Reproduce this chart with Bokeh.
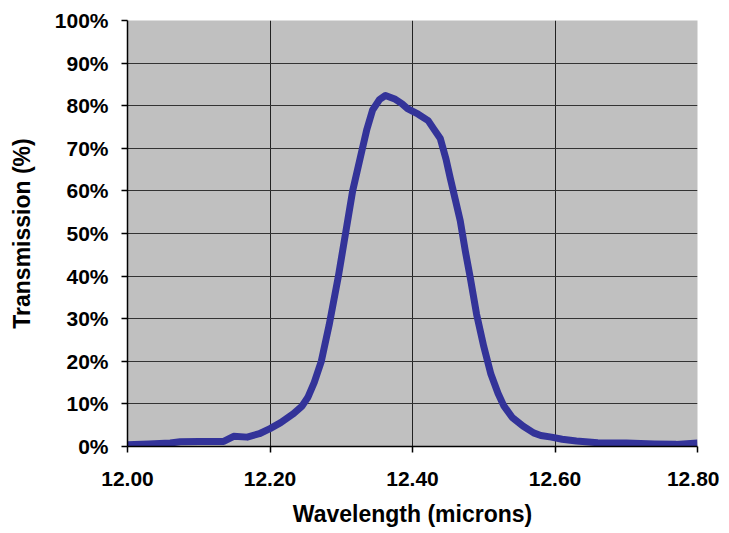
from bokeh.plotting import figure
from bokeh.models import Range1d, PrintfTickFormatter, FixedTicker
from bokeh.embed import file_html
from bokeh.resources import INLINE

wavelength = [12.000, 12.030, 12.060, 12.074, 12.100, 12.135, 12.149, 12.168, 12.185, 12.200,
              12.215, 12.233, 12.245, 12.253, 12.262, 12.272, 12.283, 12.296, 12.306, 12.316,
              12.327, 12.336, 12.344, 12.354, 12.362, 12.376, 12.385, 12.393, 12.408, 12.422,
              12.430, 12.439, 12.447, 12.453, 12.460, 12.467, 12.474, 12.481, 12.490, 12.500,
              12.510, 12.520, 12.528, 12.540, 12.555, 12.570, 12.580, 12.595, 12.610, 12.630,
              12.660, 12.700, 12.740, 12.770, 12.800]
transmission = [0.4, 0.6, 0.8, 1.1, 1.2, 1.2, 2.4, 2.2, 3.0, 4.2,
                5.6, 7.7, 9.5, 11.5, 15.0, 20.0, 28.5, 40.0, 50.0, 60.0,
                68.0, 74.5, 79.0, 81.5, 82.4, 81.5, 80.5, 79.3, 78.0, 76.5,
                74.5, 72.3, 67.5, 63.0, 58.0, 53.0, 46.0, 39.7, 31.0, 23.5,
                17.0, 12.5, 9.6, 6.8, 4.8, 3.2, 2.6, 2.2, 1.7, 1.3,
                0.9, 0.8, 0.6, 0.5, 0.8]

x_ticks = [12.0, 12.2, 12.4, 12.6, 12.8]
y_ticks = [0, 10, 20, 30, 40, 50, 60, 70, 80, 90, 100]

p = figure(width=719, height=533, output_backend="svg", toolbar_location=None,
           x_range=Range1d(12.0, 12.8), y_range=Range1d(0, 100),
           min_border_left=127, min_border_right=22, min_border_top=20, min_border_bottom=87)

p.background_fill_color = "#C0C0C0"
p.border_fill_color = "white"
p.outline_line_color = None

p.line(wavelength, transmission, line_color="#333399", line_width=7, line_join="round")

font = "Liberation Sans"
for ax in (p.xaxis, p.yaxis):
    ax.axis_line_color = "black"
    ax.axis_line_width = 1.5
    ax.major_tick_line_color = "black"
    ax.major_tick_line_width = 1.5
    ax.major_tick_out = 6
    ax.major_tick_in = 0
    ax.minor_tick_line_color = None
    ax.major_label_text_font = font
    ax.major_label_text_font_style = "bold"
    ax.major_label_text_font_size = "21px"
    ax.major_label_text_color = "black"
    ax.axis_label_text_font = font
    ax.axis_label_text_font_style = "bold"
    ax.axis_label_text_font_size = "23px"
    ax.axis_label_text_color = "black"

p.xaxis.ticker = FixedTicker(ticks=x_ticks)
p.yaxis.ticker = FixedTicker(ticks=y_ticks)
p.xaxis.formatter = PrintfTickFormatter(format="%.2f")
p.yaxis.formatter = PrintfTickFormatter(format="%d%%")
p.xaxis.major_label_standoff = 19
p.yaxis.major_label_standoff = 13
p.xaxis.axis_label = "Wavelength (microns)"
p.yaxis.axis_label = "Transmission (%)"
p.xaxis.axis_label_standoff = 12
p.yaxis.axis_label_standoff = 17

p.xgrid.ticker = FixedTicker(ticks=[12.2, 12.4, 12.6])
p.xgrid.grid_line_color = "#222222"
p.xgrid.grid_line_width = 1
p.ygrid.grid_line_color = "#333333"
p.ygrid.grid_line_width = 1

open("out.html", "w").write(file_html(p, INLINE))
